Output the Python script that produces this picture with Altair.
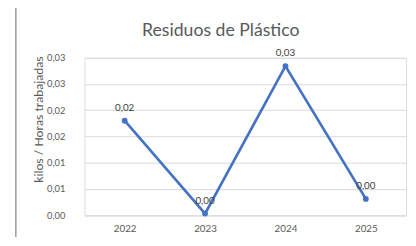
import altair as alt
import pandas as pd

years = ["2022", "2023", "2024", "2025"]
values = [0.0180, 0.0003, 0.0284, 0.0031]
value_labels = ["0,02", "0,00", "0,03", "0,00"]
tick_values = [0, 0.005, 0.01, 0.015, 0.02, 0.025, 0.03]
tick_labels = ["0,00", "0,01", "0,01", "0,02", "0,02", "0,03", "0,03"]
chart_title = "Residuos de Plástico"

df = pd.DataFrame({"year": years, "value": values, "label": value_labels})
title_df = pd.DataFrame({"t": [chart_title]})

label_expr = "[" + ",".join("'%s'" % t for t in tick_labels) + "][round(datum.value / 0.005)]"

FONT = "Lato"
GREY = "#595959"
BLUE = "#4472C4"

x_enc = alt.X("year:O", scale=alt.Scale(type="point", padding=0.5),
              axis=alt.Axis(title=None, labelAngle=0, domain=False, ticks=False,
                            labelPadding=9, labelFont=FONT, labelFontSize=10,
                            labelColor=GREY, grid=False))
y_enc = alt.Y("value:Q", scale=alt.Scale(domain=[0, 0.03], nice=False),
              axis=alt.Axis(title="kilos / Horas trabajadas", values=tick_values,
                            labelExpr=label_expr, domain=False, ticks=False,
                            labelOverlap=False,
                            labelPadding=20, labelFont=FONT, labelFontSize=9.5,
                            labelColor=GREY, gridColor="#d9d9d9", gridWidth=1,
                            titleFont=FONT, titleFontSize=12.5, titleFontWeight="normal",
                            titleColor=GREY, titleX=-47, titleY=62.5, titleBaseline="middle",
                            titleAngle=-90, titleAlign="center"))

base = alt.Chart(df).encode(x=x_enc, y=y_enc)

line = base.mark_line(color=BLUE, strokeWidth=2.7)
pts = base.mark_point(color=BLUE, filled=True, opacity=1, size=35)
txt = base.mark_text(dy=-13, font=FONT, fontSize=10, color="#404040").encode(text="label:N")

title_mark = alt.Chart(title_df).mark_text(
    font=FONT, fontSize=18, color=GREY, baseline="alphabetic", align="center"
).encode(x=alt.value(139), y=alt.value(-22.5), text="t:N")

border_top = alt.Chart(title_df).mark_rule(color="#9a9a9a", strokeWidth=1.5).encode(
    x=alt.value(-70), x2=alt.value(340), y=alt.value(-51.5))
border_left = alt.Chart(title_df).mark_rule(color="#9a9a9a", strokeWidth=1.5).encode(
    x=alt.value(-70), y=alt.value(-51.5), y2=alt.value(200))

chart = alt.layer(line, pts, txt, title_mark, border_top, border_left).properties(
    width=328, height=160.5,
    autosize=alt.AutoSizeParams(type="none"),
    padding={"left": 78, "top": 48.5, "right": 2, "bottom": 20},
).configure_view(stroke=None).configure(background="white")

chart.save("out.html", embed_options={"renderer": "svg", "actions": False})
